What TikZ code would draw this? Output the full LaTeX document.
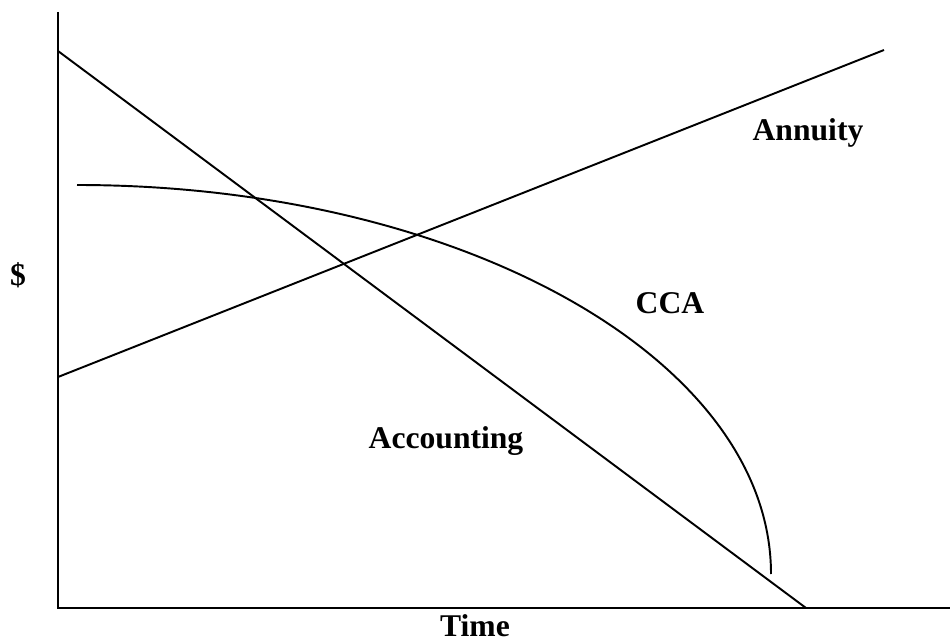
\documentclass[tikz,border=0pt]{standalone}
\usepackage{fontspec}
\setmainfont{Liberation Serif}
\tikzset{
    curve/.style={line width=1.1pt},
    lbl/.style={font=\fontsize{18}{20}\selectfont\bfseries, anchor=base, inner sep=0pt}
}
\begin{document}
\begin{tikzpicture}[x=0.02cm, y=-0.02cm]
        \useasboundingbox (0,0) rectangle (950,642);

        \coordinate (origin) at (58,608);
        \coordinate (ytop) at (58,12);
        \coordinate (xend) at (950,608);
        \draw[curve] (ytop) -- (origin) -- (xend);

        \coordinate (accA) at (58,51);
        \coordinate (accB) at (806,608);
        \draw[curve] (accA) -- (accB);

        \coordinate (annA) at (58,377);
        \coordinate (annB) at (884,50);
        \draw[curve] (annA) -- (annB);

        \coordinate (ccaA) at (77,185);
        \draw[curve] (ccaA) arc[start angle=90, end angle=0, x radius=694, y radius=-389];

        \node[lbl] (annuity) at (808,140) {Annuity};
        \node[lbl] (cca) at (670,313) {CCA};
        \node[lbl] (accounting) at (446,448) {Accounting};
        \node[lbl] (dollar) at (18,285) {\$};
        \node[lbl] (time) at (475,636) {Time};
    \end{tikzpicture}
\end{document}
